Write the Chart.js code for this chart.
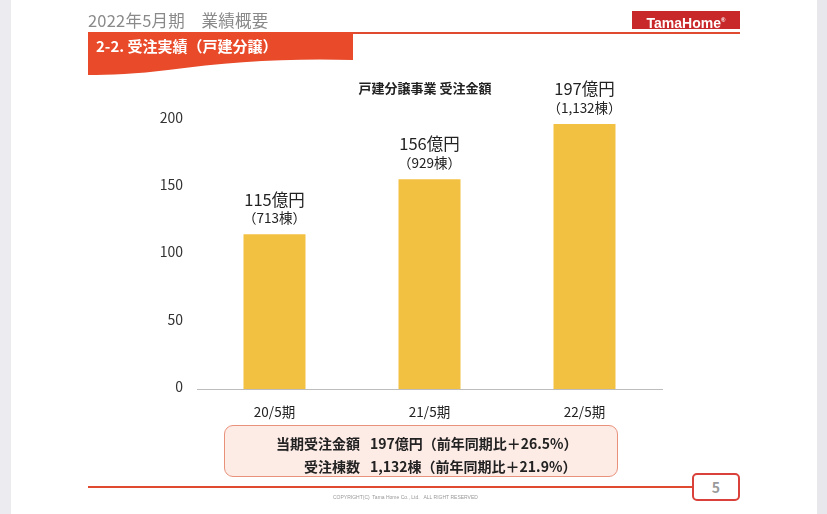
<!DOCTYPE html>
<html lang="ja">
<head>
<meta charset="utf-8">
<script src="https://cdn.jsdelivr.net/npm/chart.js@4.4.0/dist/chart.umd.min.js"></script>
<style>
  html, body { margin: 0; padding: 0; }
  body { width: 827px; height: 514px; position: relative; overflow: hidden; background: #fff;
         font-family: "Noto Sans CJK JP", "Noto Sans", sans-serif; }
  #chartCanvas { position: absolute; left: 0; top: 0; }
  .abs { position: absolute; }
  .edgeL { left: 0; top: 0; width: 11px; height: 514px; background: #ececf0; }
  .edgeR { right: 0; top: 0; width: 10px; height: 514px; background: #e8e8ec; }
  .pageTitle { left: 88px; top: 8px; font-size: 16.5px; color: #8a8a8a; letter-spacing: 0.2px; }
  .logo { left: 632px; top: 11px; width: 108px; height: 18px; background: #c8282a; color: #fff;
          font-family: "Liberation Sans", Arial, sans-serif; font-weight: bold; font-size: 14px;
          line-height: 18px; text-align: center; }
  .logo sup { font-size: 6px; vertical-align: 6px; }
  .topLine { left: 88px; top: 32px; width: 652px; height: 2px; background: #e04a2f; }
  .banner { left: 88px; top: 32px; }
  .bannerText { left: 96px; top: 35px; color: #fff; font-weight: bold; font-size: 15px; }
  .chartTitle { left: 275px; top: 78px; width: 300px; text-align: center; font-weight: bold; font-size: 13px; color: #222; }
  .summary { left: 224px; top: 425px; width: 392px; height: 50px; background: #fdebe6;
             border: 1.5px solid #e8927c; border-radius: 9px; }
  .sumRow { position: absolute; left: 0; width: 392px; font-weight: bold; font-size: 14px; color: #222; }
  .sumRow .k { position: absolute; right: 257px; text-align: right; white-space: nowrap; }
  .sumRow .v { position: absolute; left: 145px; white-space: nowrap; }
  .bottomLine { left: 88px; top: 486px; width: 606px; height: 2px; background: #e04a2f; }
  .pageBox { left: 692px; top: 473px; width: 44px; height: 24px; border: 2px solid #d9413a; border-radius: 5px;
             background: #fff; color: #9a9a9a; font-weight: bold; font-size: 14px; text-align: center; line-height: 24px; }
  .copy { left: 333px; top: 494px; font-size: 5px; color: #999; font-family: "Liberation Sans", sans-serif; }
</style>
</head>
<body>
<canvas id="chartCanvas" width="827" height="514"></canvas>

<div class="abs edgeL"></div>
<div class="abs edgeR"></div>
<div class="abs pageTitle">2022年5月期　業績概要</div>
<div class="abs logo">TamaHome<sup>®</sup></div>
<div class="abs topLine"></div>
<svg class="abs banner" width="270" height="46" viewBox="0 0 270 46">
  <path d="M0 0 H265 V28 C200 26 140 30 80 38 C50 42 20 43 0 43 Z" fill="#e84a2a"/>
</svg>
<div class="abs bannerText">2-2. 受注実績（戸建分譲）</div>
<div class="abs chartTitle">戸建分譲事業 受注金額</div>

<div class="abs summary">
  <div class="sumRow" style="top:7px"><span class="k">当期受注金額</span><span class="v">197億円（前年同期比＋26.5%）</span></div>
  <div class="sumRow" style="top:30px"><span class="k">受注棟数</span><span class="v">1,132棟（前年同期比＋21.9%）</span></div>
</div>
<div class="abs bottomLine"></div>
<div class="abs pageBox">5</div>
<div class="abs copy">COPYRIGHT(C)&nbsp; Tama Home Co., Ltd.&nbsp;&nbsp; ALL RIGHT RESERVED</div>

<script>
// --- data ---
const periods = ['20/5期', '21/5期', '22/5期'];
const orderAmount = [115, 156, 197];          // 受注金額（億円）
const orderUnits = ['713', '929', '1,132'];   // 受注棟数
const yTicks = [0, 50, 100, 150, 200];

const barColor = '#F3C142';
const jpFont = '"Noto Sans CJK JP", "Noto Sans", sans-serif';

// labels above the bars: amount + units
const barLabels = {
  id: 'barLabels',
  afterDatasetsDraw(chart) {
    const ctx = chart.ctx;
    const meta = chart.getDatasetMeta(0);
    ctx.save();
    ctx.fillStyle = '#222';
    ctx.textAlign = 'center';
    ctx.textBaseline = 'middle';
    meta.data.forEach((bar, i) => {
      ctx.font = '16.5px ' + jpFont;
      ctx.fillText(orderAmount[i] + '億円', bar.x, bar.y - 35);
      ctx.font = '13.5px ' + jpFont;
      ctx.fillText('（' + orderUnits[i] + '棟）', bar.x, bar.y - 16);
    });
    ctx.restore();
  }
};

new Chart(document.getElementById('chartCanvas'), {
  type: 'bar',
  data: {
    labels: periods,
    datasets: [{
      data: orderAmount,
      backgroundColor: barColor,
      barPercentage: 0.4,
      categoryPercentage: 1.0
    }]
  },
  options: {
    responsive: false,
    animation: false,
    layout: { padding: { top: 120, right: 165, left: 0, bottom: 0 } },
    plugins: {
      legend: { display: false },
      tooltip: { enabled: false }
    },
    scales: {
      x: {
        grid: { display: false, drawTicks: false },
        border: { display: true, color: '#bdbdbd', width: 1 },
        ticks: { color: '#222', padding: 15, font: { size: 13.5, family: jpFont } },
        afterFit(scale) { scale.height = 125; }
      },
      y: {
        min: 0,
        max: 200,
        afterBuildTicks(scale) { scale.ticks = yTicks.map(v => ({ value: v })); },
        grid: { display: false, drawTicks: false },
        border: { display: false },
        ticks: { color: '#333', padding: 14, labelOffset: -2.5, font: { size: 14, family: jpFont } },
        afterFit(scale) { scale.width = 197; }
      }
    }
  },
  plugins: [barLabels]
});
</script>
</body>
</html>
